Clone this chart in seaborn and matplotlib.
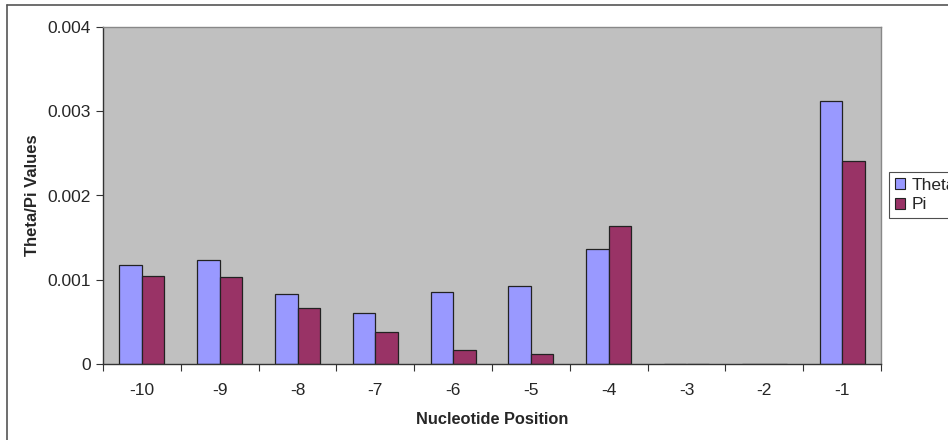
import matplotlib
matplotlib.use("Agg")
import matplotlib.pyplot as plt
from matplotlib.lines import Line2D
import seaborn as sns
import pandas as pd

positions = ["-10", "-9", "-8", "-7", "-6", "-5", "-4", "-3", "-2", "-1"]
theta = [0.001175, 0.001234, 0.000830, 0.000605, 0.000855, 0.000926, 0.001361, 0.0, 0.0, 0.003125]
pi = [0.001045, 0.001033, 0.000665, 0.000380, 0.000166, 0.000119, 0.001634, 0.0, 0.0, 0.002413]
series = ["Theta", "Pi"]
yticks = [0, 0.001, 0.002, 0.003, 0.004]
ytick_labels = ["0", "0.001", "0.002", "0.003", "0.004"]

df = pd.DataFrame({
    "Nucleotide Position": positions * 2,
    "value": theta + pi,
    "series": [series[0]] * len(positions) + [series[1]] * len(positions),
})

sns.set_style("white")
plt.rcParams["font.family"] = ["Liberation Sans", "DejaVu Sans"]

fig = plt.figure(figsize=(9.48, 4.40), dpi=100)
ax = fig.add_axes([103 / 948, 1 - 364 / 440, (881 - 103) / 948, (364 - 27) / 440])

sns.barplot(data=df, x="Nucleotide Position", y="value", hue="series",
            order=positions, hue_order=series,
            palette={"Theta": "#9999FF", "Pi": "#993366"},
            width=0.58, gap=0, edgecolor="#222222", linewidth=0.9,
            saturation=1, ax=ax, legend=True)

ax.set_facecolor("#C0C0C0")
ax.set_xlim(-0.5, len(positions) - 0.5)
ax.set_ylim(0, 0.004)
ax.set_yticks(yticks)
ax.set_yticklabels(ytick_labels, fontsize=12.5)
ax.tick_params(axis="y", direction="out", length=5, width=0.8, color="#333333", pad=4, left=True)

# category labels at centres, tick marks at category boundaries
ax.set_xticks(range(len(positions)))
ax.set_xticklabels(positions, fontsize=12.5)
ax.tick_params(axis="x", which="major", length=0, pad=14)
ax.set_xticks([i - 0.5 for i in range(len(positions) + 1)], minor=True)
ax.tick_params(axis="x", which="minor", direction="out", length=5, width=0.8, color="#333333", bottom=True)

for side in ["left", "bottom"]:
    ax.spines[side].set_color("#333333")
    ax.spines[side].set_linewidth(1.0)
for side in ["top", "right"]:
    ax.spines[side].set_visible(True)
    ax.spines[side].set_color("#888888")
    ax.spines[side].set_linewidth(1.0)

ax.set_xlabel("Nucleotide Position", fontsize=11.8, fontweight="bold", labelpad=10)
ax.set_ylabel("Theta/Pi Values", fontsize=12, fontweight="bold", labelpad=5)

leg = ax.legend(loc="upper left", bbox_to_anchor=(889 / 948, 1 - 172 / 440),
                bbox_transform=fig.transFigure, frameon=True, fontsize=12.5,
                handlelength=0.6, handleheight=0.6, handletextpad=0.35,
                borderpad=0.35, labelspacing=0.25, fancybox=False, borderaxespad=0)
leg.get_frame().set_edgecolor("#222222")
leg.get_frame().set_linewidth(0.8)
for h in leg.legend_handles:
    h.set_edgecolor("#222222")
    h.set_linewidth(0.8)

# chart-area frame (top and left edges)
fig.add_artist(Line2D([7 / 948, 1], [1 - 5 / 440, 1 - 5 / 440], transform=fig.transFigure,
                      color="#555555", linewidth=1.2))
fig.add_artist(Line2D([7 / 948, 7 / 948], [0, 1 - 5 / 440], transform=fig.transFigure,
                      color="#555555", linewidth=1.2))

fig.savefig("out.png", dpi=100, facecolor="white")
